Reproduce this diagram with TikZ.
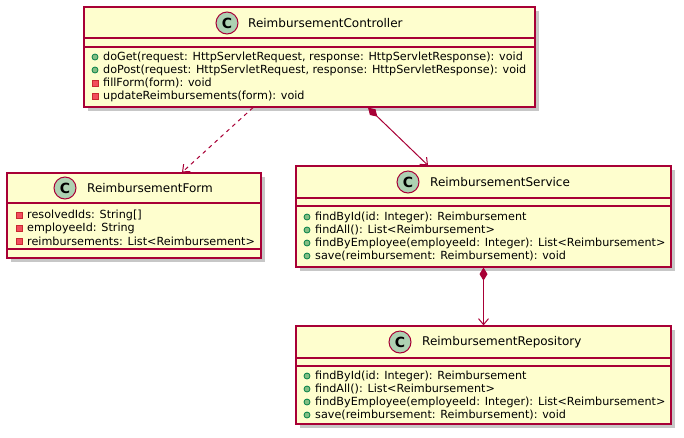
\documentclass[tikz,border=0pt]{standalone}
\usepackage{fontspec}
\setmainfont{DejaVu Sans}
\usetikzlibrary{arrows.meta,calc}
\definecolor{boxfill}{HTML}{FEFECE}
\definecolor{boxline}{HTML}{A80036}
\definecolor{cfill}{HTML}{ADD1B2}
\definecolor{pubfill}{HTML}{84BE84}
\definecolor{publine}{HTML}{038048}
\definecolor{privfill}{HTML}{F24D5C}
\definecolor{privline}{HTML}{C82930}
\tikzset{
  umlbox/.style={draw=boxline, fill=boxfill, line width=1.2pt, rectangle, inner sep=0pt},
  sepline/.style={draw=boxline, line width=1.2pt},
  shadowbox/.style={fill=black!22, draw=none},
  ctitle/.style={font=\fontsize{12}{14}\selectfont, anchor=west, inner sep=0pt},
  cicon/.style={circle, draw=boxline, fill=cfill, line width=1pt, minimum size=22pt, inner sep=0pt, font=\fontsize{14}{14}\selectfont\bfseries},
  mem/.style={font=\fontsize{11.2}{13}\selectfont, anchor=west, inner sep=0pt},
  pub/.style={draw=publine, fill=pubfill, line width=0.8pt},
  priv/.style={draw=privline, fill=privfill, line width=0.8pt},
  conn/.style={draw=boxline, line width=1pt},
}
% #1 name, #2 icon x, #3 y, #4 text
\newcommand\pubrow[4]{%
  \filldraw[pub] (#2,-#3) circle (3);
  \node[mem] (#1) at (#2+8,-#3) {#4};}
\newcommand\privrow[4]{%
  \filldraw[priv] (#2-3,-#3-3) rectangle (#2+3,-#3+3);
  \node[mem] (#1) at (#2+8,-#3) {#4};}
% #1 name, #2 x1, #3 y1, #4 x2, #5 y2
\newcommand\umlclass[5]{%
  \fill[shadowbox] (#2+4,-#3-4) rectangle (#4+4,-#5-4);
  \node[umlbox, minimum width=#4-#2, minimum height=#5-#3] (#1) at ({(#2+#4)/2},{-(#3+#5)/2}) {};}
\newcommand\seph[3]{\draw[sepline] (#1,-#3) -- (#2,-#3);}
\begin{document}
\begin{tikzpicture}[x=1pt,y=1pt]
\useasboundingbox (0,0) rectangle (684,-437);

% ReimbursementController
\umlclass{ctrl}{84}{7}{535}{107}
\seph{84}{535}{38}
\seph{84}{535}{47}
\node[cicon] (ctrlC) at (227,-23) {C};
\node[ctitle] (ctrlT) at (248,-23) {ReimbursementController};
\pubrow{c1}{95}{57}{doGet(request: HttpServletRequest, response: HttpServletResponse): void}
\pubrow{c2}{95}{70}{doPost(request: HttpServletRequest, response: HttpServletResponse): void}
\privrow{c3}{95}{83}{fillForm(form): void}
\privrow{c4}{95}{96}{updateReimbursements(form): void}

% ReimbursementForm
\umlclass{form}{7}{173}{261}{258}
\seph{7}{261}{203}
\seph{7}{261}{249}
\node[cicon] (formC) at (65,-188) {C};
\node[ctitle] (formT) at (87,-188) {ReimbursementForm};
\privrow{f1}{19}{215}{resolvedIds: String[]}
\privrow{f2}{19}{228}{employeeId: String}
\privrow{f3}{19}{241}{reimbursements: List<Reimbursement>}

% ReimbursementService
\umlclass{serv}{296}{166}{671}{267}
\seph{296}{671}{198}
\seph{296}{671}{206}
\node[cicon] (servC) at (408,-182) {C};
\node[ctitle] (servT) at (430,-182) {ReimbursementService};
\pubrow{s1}{307}{217}{findById(id: Integer): Reimbursement}
\pubrow{s2}{307}{230}{findAll(): List<Reimbursement>}
\pubrow{s3}{307}{243}{findByEmployee(employeeId: Integer): List<Reimbursement>}
\pubrow{s4}{307}{256}{save(reimbursement: Reimbursement): void}

% ReimbursementRepository
\umlclass{repo}{296}{326}{671}{424}
\seph{296}{671}{358}
\seph{296}{671}{366}
\node[cicon] (repoC) at (400,-342) {C};
\node[ctitle] (repoT) at (422,-342) {ReimbursementRepository};
\pubrow{r1}{307}{376}{findById(id: Integer): Reimbursement}
\pubrow{r2}{307}{389}{findAll(): List<Reimbursement>}
\pubrow{r3}{307}{402}{findByEmployee(employeeId: Integer): List<Reimbursement>}
\pubrow{r4}{307}{415}{save(reimbursement: Reimbursement): void}

% connectors
\draw[conn, dashed, dash pattern=on 4pt off 4pt, -{Straight Barb[length=6pt,width=10pt]}]
  ([xshift=-56.5pt]ctrl.south) -- ([xshift=48pt]form.north);
\draw[conn, {Diamond[length=13pt,width=8pt,fill=boxline]}-{Straight Barb[length=6pt,width=10pt]}]
  ([xshift=58.5pt]ctrl.south) -- ([xshift=-55.5pt]serv.north);
\draw[conn, {Diamond[length=13pt,width=8pt,fill=boxline]}-{Straight Barb[length=6pt,width=10pt]}]
  (serv.south) -- (repo.north);
\end{tikzpicture}
\end{document}
